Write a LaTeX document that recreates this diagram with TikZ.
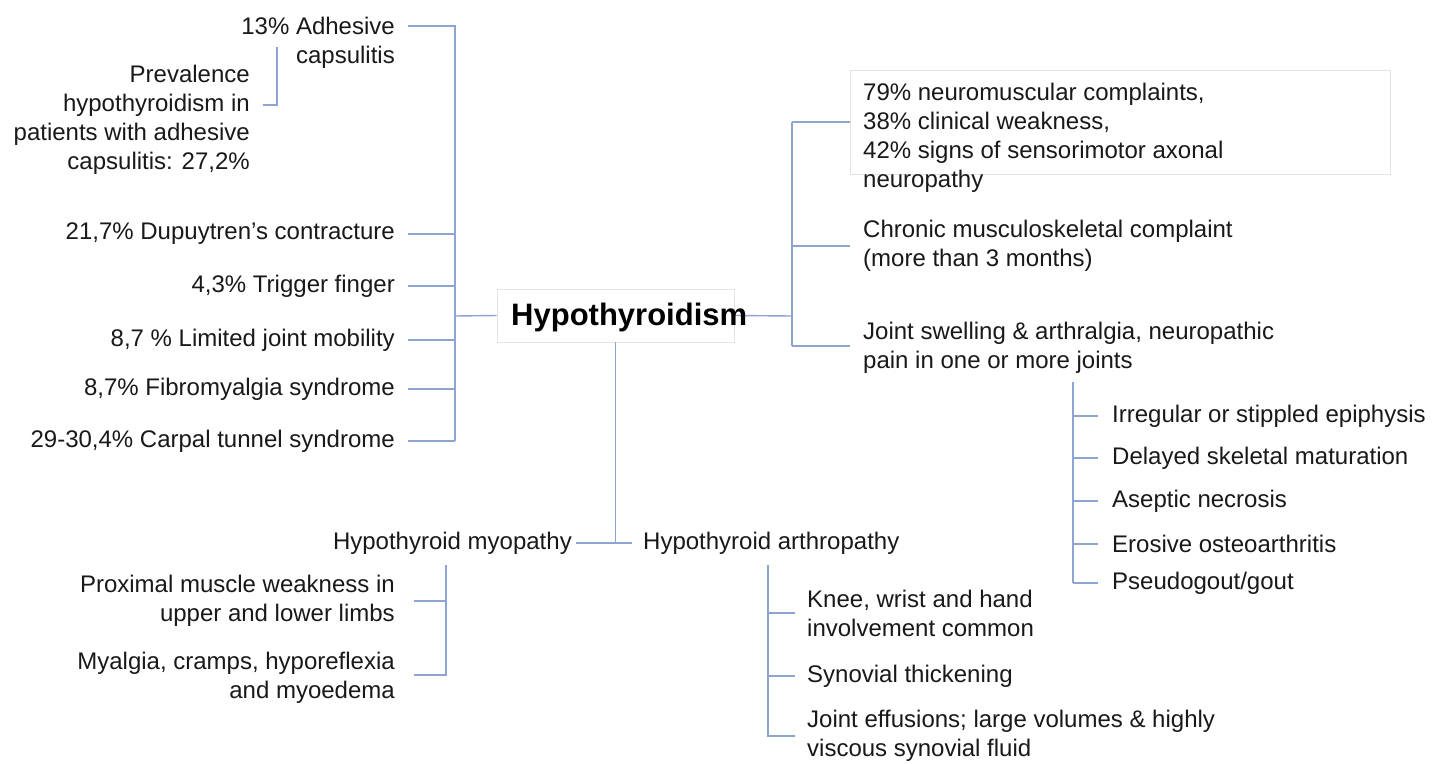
\documentclass[tikz,border=0pt]{standalone}
\usepackage{fontspec}
\setmainfont{Liberation Sans}
\definecolor{linec}{HTML}{8EA4D2}
\definecolor{boxc}{HTML}{E2E2E2}
\begin{document}
\begin{tikzpicture}[x=1pt,y=-1pt,
  conn/.style={draw=linec, line width=1.4pt},
  lt/.style={font=\fontsize{24}{29}\selectfont, inner sep=0pt, align=right, anchor=east, text=black!90},
  rt/.style={font=\fontsize{24}{29}\selectfont, inner sep=0pt, align=left, anchor=west, text=black!90}]
\useasboundingbox[fill=white] (0,0) rectangle (1434,763);

% central box
\node[draw=boxc, line width=0.8pt, minimum width=237pt, minimum height=53pt, inner sep=0pt] (hbox) at (615.5,315.5) {};
\node (nbox) at (1120,122) [draw=boxc, line width=0.8pt, minimum width=540pt, minimum height=104pt, inner sep=0pt] {};

% left texts
\node[lt] (adh) at (395,43) {13\% Adhesive\\capsulitis};
\node[lt] (prev) at (250,120) {Prevalence\\hypothyroidism in\\patients with adhesive\\capsulitis: 27,2\%};
\node[lt] (dup) at (395,234) {21,7\% Dupuytren’s contracture};
\node[lt] (trig) at (395,286) {4,3\% Trigger finger};
\node[lt] (lim) at (395,340) {8,7 \% Limited joint mobility};
\node[lt] (fib) at (395,389) {8,7\% Fibromyalgia syndrome};
\node[lt] (carp) at (395,441) {29-30,4\% Carpal tunnel syndrome};

% left connectors
\coordinate (lbus) at (455,316);
\coordinate (adhA) at (408,26);
\coordinate (adhB) at (455,26);
\draw[conn] (adhA) -- (adhB) -- (lbus |- carp.east);
\foreach \n in {dup,trig,lim,fib,carp}
  \draw[conn] ([xshift=13pt]\n.east) -- (\n.east -| lbus);
\draw[conn] (lbus) -- (hbox.west);
\coordinate (pv1) at (263,105);
\coordinate (pv2) at (277,105);
\coordinate (pv3) at (277,47);
\draw[conn] (pv1) -- (pv2) -- (pv3);

% right
\coordinate (rbus) at (792,316);
\coordinate (rtop) at (792,122);
\coordinate (rbot) at (792,346);
\draw[conn] (hbox.east) -- (rbus);
\draw[conn] (rtop) -- (rbot);

\node[rt] (neu) at (863,138) {79\% neuromuscular complaints,\\38\% clinical weakness,\\42\% signs of sensorimotor axonal\\neuropathy};
\node[rt] (chr) at (863,246) {Chronic musculoskeletal complaint\\(more than 3 months)};
\node[rt] (joint) at (863,348) {Joint swelling \& arthralgia, neuropathic\\pain in one or more joints};

\draw[conn] (rtop) -- (nbox.west |- rtop);
\draw[conn] (chr.west -| rbus) -- ([xshift=-13pt]chr.west);
\draw[conn] (rbot) -- ([xshift=-13pt]joint.west |- rbot);

% sub list
\node[rt] (irr) at (1112,416) {Irregular or stippled epiphysis};
\node[rt] (del) at (1112,458) {Delayed skeletal maturation};
\node[rt] (ase) at (1112,501) {Aseptic necrosis};
\node[rt] (ero) at (1112,544) {Erosive osteoarthritis};
\node[rt] (pse) at (1112,583) {Pseudogout/gout};
\coordinate (sbus) at (1073,382);
\draw[conn] (sbus) -- (sbus |- pse.west);
\foreach \n in {irr,del,ase,ero,pse}
  \draw[conn] (\n.west -| sbus) -- ([xshift=-14pt]\n.west);

% bottom
\coordinate (bbus) at (615.5,542);
\draw[conn] (hbox.south) -- (bbus);
\node[lt] (myo) at (572,543) {Hypothyroid myopathy};
\node[rt] (arth) at (643,543) {Hypothyroid arthropathy};
\draw[conn] ([xshift=4pt]myo.east) -- ([xshift=-11pt]arth.west);

% myopathy children
\node[lt] (prox) at (395,601) {Proximal muscle weakness in\\upper and lower limbs};
\node[lt] (myal) at (395,678) {Myalgia, cramps, hyporeflexia\\and myoedema};
\coordinate (mbus) at (446,565);
\coordinate (mh1) at (414,601);
\coordinate (mh2) at (414,675);
\draw[conn] (mbus) -- (mbus |- mh2) -- (mh2);
\draw[conn] (mh1) -- (mh1 -| mbus);

% arthropathy children
\node[rt] (knee) at (807,613) {Knee, wrist and hand\\involvement common};
\node[rt] (syn) at (807,676) {Synovial thickening};
\node[rt] (eff) at (807,736) {Joint effusions; large volumes \& highly\\viscous synovial fluid};
\coordinate (abus) at (768,565);
\draw[conn] (abus) -- (abus |- eff.west) -- ([xshift=-12pt]eff.west);
\draw[conn] (knee.west -| abus) -- ([xshift=-12pt]knee.west);
\draw[conn] (syn.west -| abus) -- ([xshift=-12pt]syn.west);

% central text
\node[font=\fontsize{31}{36}\selectfont\bfseries, inner sep=0pt, anchor=west] (htxt) at (511,317) {Hypothyroidism};
\end{tikzpicture}
\end{document}
